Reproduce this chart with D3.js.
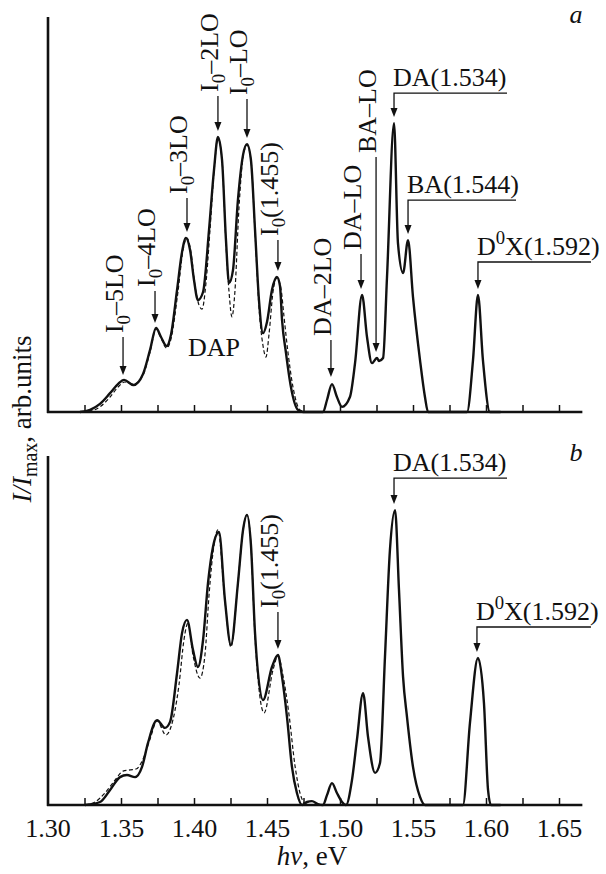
<!DOCTYPE html>
<html lang="en">
<head>
<meta charset="utf-8">
<title>PL spectra a, b</title>
<script src="https://d3js.org/d3.v7.min.js"></script>
<style>
  body { margin: 0; background: #fff; }
  svg text { font-family: "Liberation Serif", "Times New Roman", serif; fill: #111; }
</style>
</head>
<body>
<div id="chart"></div>
<script>
// spectra: [photon energy (eV), I/Imax]
const solidA = [[1.3219,0],[1.3288,0.007],[1.3356,0.027],[1.3425,0.063],[1.3479,0.093],[1.3521,0.107],[1.3585,0.090],
  [1.3651,0.127],[1.3699,0.207],[1.3740,0.280],[1.3774,0.250],[1.3812,0.220],[1.3842,0.257],[1.3884,0.407],
  [1.3918,0.533],[1.3945,0.580],[1.3973,0.540],[1.4000,0.440],[1.4027,0.373],[1.4062,0.400],[1.4103,0.607],
  [1.4137,0.807],[1.4164,0.917],[1.4192,0.840],[1.4219,0.573],[1.4240,0.430],[1.4267,0.473],[1.4301,0.707],
  [1.4336,0.857],[1.4363,0.893],[1.4390,0.840],[1.4418,0.607],[1.4445,0.373],[1.4473,0.263],[1.4500,0.300],
  [1.4534,0.407],[1.4568,0.450],[1.4589,0.420],[1.4603,0.307],[1.4630,0.197],[1.4664,0.083],[1.4712,0.007],
  [1.4747,0],[1.4884,0],[1.4911,0.040],[1.4945,0.093],[1.4979,0.050],[1.5014,0.017],[1.5068,0.050],
  [1.5103,0.163],[1.5151,0.390],[1.5185,0.250],[1.5219,0.163],[1.5253,0.180],[1.5267,0.170],[1.5295,0.180],
  [1.5322,0.450],[1.5370,0.963],[1.5397,0.563],[1.5432,0.463],[1.5466,0.573],[1.5500,0.383],[1.5548,0.173],
  [1.5582,0.050],[1.5603,0],[1.5870,0],[1.5911,0.173],[1.5945,0.390],[1.5979,0.173],[1.6027,0],[1.6100,0]];

const dashedA = [[1.3233,0],[1.3288,0.003],[1.3356,0.017],[1.3425,0.050],[1.3479,0.083],[1.3527,0.100],[1.3585,0.093],
  [1.3651,0.123],[1.3699,0.200],[1.3740,0.277],[1.3774,0.247],[1.3812,0.213],[1.3842,0.243],[1.3890,0.400],
  [1.3925,0.540],[1.3952,0.580],[1.3980,0.530],[1.4007,0.420],[1.4034,0.357],[1.4055,0.343],[1.4082,0.430],
  [1.4110,0.610],[1.4137,0.800],[1.4164,0.913],[1.4192,0.840],[1.4219,0.560],[1.4240,0.400],[1.4260,0.317],
  [1.4280,0.400],[1.4308,0.680],[1.4336,0.850],[1.4363,0.890],[1.4390,0.840],[1.4418,0.600],[1.4445,0.350],
  [1.4473,0.220],[1.4493,0.183],[1.4514,0.260],[1.4541,0.400],[1.4568,0.447],[1.4596,0.410],[1.4616,0.320],
  [1.4644,0.197],[1.4678,0.083],[1.4726,0.007],[1.4767,0]];

const solidB = [[1.3253,0],[1.3356,0.010],[1.3425,0.050],[1.3493,0.093],[1.3541,0.100],[1.3596,0.093],[1.3644,0.127],
  [1.3685,0.207],[1.3747,0.283],[1.3801,0.257],[1.3836,0.277],[1.3884,0.440],[1.3918,0.573],[1.3952,0.617],
  [1.3993,0.517],[1.4027,0.460],[1.4062,0.550],[1.4096,0.740],[1.4130,0.860],[1.4171,0.910],[1.4212,0.683],
  [1.4253,0.533],[1.4301,0.740],[1.4336,0.917],[1.4363,0.967],[1.4390,0.867],[1.4418,0.573],[1.4473,0.350],
  [1.4534,0.460],[1.4575,0.500],[1.4603,0.427],[1.4637,0.293],[1.4671,0.127],[1.4705,0.040],[1.4740,0],
  [1.4774,0.010],[1.4808,0.013],[1.4849,0.003],[1.4884,0],[1.4911,0.033],[1.4945,0.073],[1.4979,0.040],
  [1.5014,0.010],[1.5041,0],[1.5082,0.083],[1.5116,0.217],[1.5158,0.373],[1.5192,0.227],[1.5240,0.107],
  [1.5274,0.140],[1.5308,0.493],[1.5342,0.850],[1.5377,0.983],[1.5404,0.717],[1.5432,0.427],[1.5459,0.293],
  [1.5500,0.127],[1.5548,0.027],[1.5582,0],[1.5842,0],[1.5890,0.273],[1.5945,0.490],[1.5986,0.340],
  [1.6014,0.050],[1.6034,0],[1.6100,0]];

const dashedB = [[1.3253,0],[1.3322,0.010],[1.3390,0.040],[1.3459,0.083],[1.3514,0.113],[1.3562,0.117],[1.3603,0.120],
  [1.3651,0.153],[1.3699,0.220],[1.3747,0.280],[1.3808,0.233],[1.3842,0.260],[1.3897,0.400],[1.3932,0.553],
  [1.3959,0.607],[1.3993,0.500],[1.4041,0.423],[1.4075,0.500],[1.4103,0.700],[1.4137,0.867],[1.4164,0.917],
  [1.4212,0.680],[1.4253,0.527],[1.4301,0.740],[1.4336,0.917],[1.4363,0.967],[1.4390,0.867],[1.4418,0.560],
  [1.4480,0.307],[1.4541,0.450],[1.4575,0.497],[1.4610,0.430],[1.4651,0.300],[1.4692,0.130],[1.4726,0.040],
  [1.4767,0]];

// x ticks (eV); labels only on every 0.05
const tickValues = [1.325,1.35,1.375,1.40,1.425,1.45,1.475,1.50,1.525,1.55,1.575,1.60,1.625,1.65];
const tickLabels = ["1.30","1.35","1.40","1.45","1.50","1.55","1.60","1.65"];

// vertical labels: text, energy, intensity the arrow points at, arrow length
const vertLabelsA = [
  {text: "I_0–5LO",  e: 1.3514, at: 0.103, len: 38},
  {text: "I_0–4LO",  e: 1.3733, at: 0.277, len: 32},
  {text: "I_0–3LO",  e: 1.3952, at: 0.580, len: 34},
  {text: "I_0–2LO",  e: 1.4164, at: 0.917, len: 35},
  {text: "I_0–LO",   e: 1.4363, at: 0.893, len: 39},
  {text: "I_0(1.455)", e: 1.4575, at: 0.450, len: 31},
  {text: "DA–2LO",   e: 1.4938, at: 0.097, len: 37},
  {text: "DA–LO",    e: 1.5144, at: 0.390, len: 35},
  {text: "BA–LO",    e: 1.5247, at: 0.180, len: 195}
];
const vertLabelsB = [
  {text: "I_0(1.455)", e: 1.4575, at: 0.500, len: 37}
];
// bracket labels: text, energy, intensity, arrow rise, leader length
const flagLabelsA = [
  {text: "DA(1.534)",   e: 1.5370, at: 0.963, rise: 24, len: 113},
  {text: "BA(1.544)",   e: 1.5466, at: 0.573, rise: 34, len: 108},
  {text: "D^0X(1.592)", e: 1.5945, at: 0.390, rise: 27, len: 113}
];
const flagLabelsB = [
  {text: "DA(1.534)",   e: 1.5370, at: 0.983, rise: 26, len: 113},
  {text: "D^0X(1.592)", e: 1.5938, at: 0.490, rise: 25, len: 114}
];

const W = 606, H = 874, FS = 26;
const svg = d3.select("#chart").append("svg").attr("width", W).attr("height", H)
  .style("background", "#fff");

const x = d3.scaleLinear().domain([1.30, 1.65]).range([48, 559]);
const xEnd = 1.666;

function richText(sel, label, fs) {
  const parts = label.split(/([_^]\w)/).filter(s => s.length);
  let cur = 0;
  parts.forEach(p => {
    let target = 0, txt = p, size = null;
    if (p[0] === "_") { target = 0.28 * fs; txt = p.slice(1); size = 0.72 * fs; }
    if (p[0] === "^") { target = -0.42 * fs; txt = p.slice(1); size = 0.72 * fs; }
    const t = sel.append("tspan").attr("dy", target - cur).text(txt);
    if (size) t.attr("font-size", size);
    cur = target;
  });
}

function arrowHead(g, ax, tipY) {
  g.append("path")
    .attr("d", `M${ax},${tipY} L${ax - 3.5},${tipY - 9} L${ax + 3.5},${tipY - 9} Z`)
    .attr("fill", "#111");
}

function drawPanel(opt) {
  const y = d3.scaleLinear().domain([0, 1]).range([opt.base, opt.base - 300]);
  const g = svg.append("g");

  const line = d3.line().x(d => x(d[0])).y(d => y(d[1])).curve(d3.curveMonotoneX);

  g.append("path").datum(opt.dashed).attr("d", line)
    .attr("fill", "none").attr("stroke", "#111").attr("stroke-width", 1.2)
    .attr("stroke-dasharray", "4,2.5");
  g.append("path").datum(opt.solid).attr("d", line)
    .attr("fill", "none").attr("stroke", "#111").attr("stroke-width", 2.4)
    .attr("stroke-linejoin", "round");

  // axes
  const ax = g.append("g").attr("transform", `translate(0,${opt.base})`)
    .call(d3.axisBottom(x).tickValues(tickValues).tickSize(-7).tickPadding(14)
      .tickFormat(d => {
        const s = d.toFixed(2);
        return opt.labels && tickLabels.includes(s) && Math.abs(d * 40 % 2) < 0.01 ? s : "";
      }));
  ax.select(".domain").remove();
  ax.selectAll(".tick line").attr("stroke", "#111").attr("stroke-width", 1.5);
  ax.selectAll(".tick text").attr("font-size", FS)
    .style("font-family", "'Liberation Serif', serif").attr("fill", "#111");
  if (opt.labels) {
    // 1.30 sits on the corner
    ax.append("text").attr("x", x(1.30)).attr("y", 14).attr("dy", "0.71em")
      .attr("text-anchor", "middle").attr("font-size", FS).text(tickLabels[0]);
  }

  g.append("line").attr("x1", x(1.30) - 1).attr("x2", x(xEnd))
    .attr("y1", opt.base).attr("y2", opt.base)
    .attr("stroke", "#111").attr("stroke-width", 2.6);
  g.append("line").attr("x1", x(1.30)).attr("x2", x(1.30))
    .attr("y1", opt.base + 1).attr("y2", opt.top)
    .attr("stroke", "#111").attr("stroke-width", 2.6);

  // vertical arrow labels
  opt.vert.forEach(d => {
    const px = x(d.e), tip = y(d.at) - 6, top = tip - d.len;
    g.append("line").attr("x1", px).attr("x2", px).attr("y1", top).attr("y2", tip - 4)
      .attr("stroke", "#111").attr("stroke-width", 1.3);
    arrowHead(g, px, tip);
    const t = g.append("text").attr("font-size", FS)
      .attr("transform", `translate(${px},${top - 4}) rotate(-90)`)
      .attr("dy", "0.33em");
    richText(t, d.text, FS);
  });

  // bracket labels
  opt.flags.forEach(d => {
    const px = x(d.e), tip = y(d.at) - 6, ly = tip - d.rise;
    g.append("path").attr("d", `M${px + d.len},${ly} H${px} V${tip - 4}`)
      .attr("fill", "none").attr("stroke", "#111").attr("stroke-width", 1.3);
    arrowHead(g, px, tip);
    const t = g.append("text").attr("font-size", FS).attr("x", px - 1).attr("y", ly - 7);
    richText(t, d.text, FS);
  });

  g.append("text").attr("x", 576).attr("y", opt.letterY).attr("font-size", FS)
    .attr("font-style", "italic").attr("text-anchor", "middle").text(opt.letter);
  return g;
}

const gA = drawPanel({base: 412, top: 17, solid: solidA, dashed: dashedA, vert: vertLabelsA,
  flags: flagLabelsA, labels: false, letter: "a", letterY: 23});
drawPanel({base: 805, top: 456, solid: solidB, dashed: dashedB, vert: vertLabelsB,
  flags: flagLabelsB, labels: true, letter: "b", letterY: 461});

gA.append("text").attr("x", 188).attr("y", 356).attr("font-size", FS).text("DAP");

// axis titles
const yl = svg.append("text").attr("font-size", 27)
  .attr("transform", "translate(31,419) rotate(-90)").attr("text-anchor", "middle");
yl.append("tspan").attr("font-style", "italic").text("I/I");
yl.append("tspan").attr("font-size", 20).attr("dy", 6).text("max");
yl.append("tspan").attr("dy", -6).text(", arb.units");

const xl = svg.append("text").attr("x", 312).attr("y", 865).attr("font-size", 27)
  .attr("text-anchor", "middle");
xl.append("tspan").attr("font-style", "italic").text("hν");
xl.append("tspan").text(", eV");
</script>
</body>
</html>
